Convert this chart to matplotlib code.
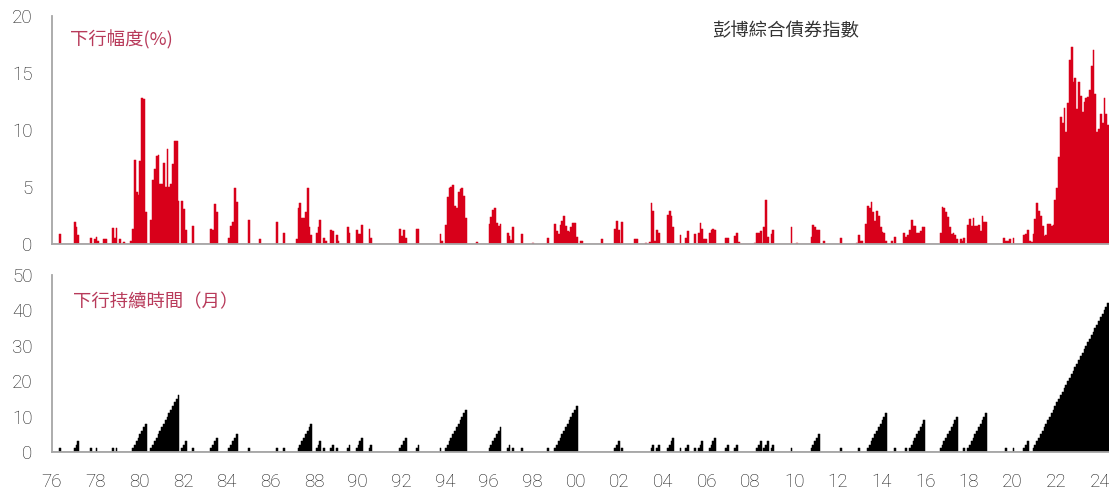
import matplotlib
matplotlib.use("Agg")
import matplotlib.pyplot as plt
import numpy as np

# ---------------- data ----------------
START_YEAR = 1976
N_MONTHS = 581  # Jan 1976 .. May 2024, monthly

# drawdown episodes of the Bloomberg Aggregate index: (first month, monthly drawdown %)
DD_EPISODES = [
    ("1976-05", [0.9]),
    ("1977-01", [1.9, 1.5, 0.8]),
    ("1977-10", [0.5]),
    ("1977-12", [0.45, 0.65, 0.3]),
    ("1978-05", [0.45, 0.45]),
    ("1978-10", [1.4, 0.5, 1.4]),
    ("1979-02", [0.4]),
    ("1979-04", [0.15]),
    ("1979-08", [0.3, 1.3, 7.4, 4.6, 4.3, 7.3, 12.8, 12.75, 2.8]),
    ("1980-07", [2.1, 5.6, 6.6, 7.7, 7.85, 5.3, 5.3, 7.1, 5.0, 8.3, 5.0, 5.3, 7.05, 9.0, 9.05, 3.75]),
    ("1981-12", [3.75, 3.1, 1.25]),
    ("1982-06", [1.55]),
    ("1983-04", [1.3, 1.2, 3.55, 2.85]),
    ("1984-02", [0.5, 1.6, 1.9, 4.9, 3.7]),
    ("1985-01", [2.1]),
    ("1985-07", [0.4]),
    ("1986-04", [1.9]),
    ("1986-08", [0.95]),
    ("1987-03", [0.45, 3.15, 3.6, 2.25, 2.3, 2.85, 4.9, 1.5, 0.75]),
    ("1988-02", [0.95, 1.45, 2.1]),
    ("1988-06", [0.5, 0.3]),
    ("1988-10", [1.25, 1.15]),
    ("1989-01", [0.75, 0.3]),
    ("1989-07", [1.45, 0.95]),
    ("1989-12", [1.2, 0.9, 0.9, 1.7]),
    ("1990-07", [1.35, 0.5]),
    ("1991-12", [1.35, 0.7, 1.25, 0.55]),
    ("1992-09", [1.3, 1.3]),
    ("1993-10", [0.9, 0.3]),
    ("1994-01", [1.7, 4.15, 4.9, 5.0, 5.15, 3.3, 3.2, 4.55, 4.8, 4.9, 4.2, 2.3]),
    ("1995-06", [0.2]),
    ("1996-01", [1.75, 2.4, 2.95, 3.15, 1.85, 1.55, 1.75]),
    ("1996-11", [0.95, 0.67, 0.35, 1.5]),
    ("1997-07", [0.88]),
    ("1998-01", [0.1]),
    ("1998-09", [0.5]),
    ("1999-01", [1.75, 1.15, 0.9, 1.7, 2.05, 2.5, 1.6, 1.1, 1.05, 1.45, 1.85, 1.8, 0.65]),
    ("2000-03", [0.3, 0.25]),
    ("2001-03", [0.4]),
    ("2001-10", [1.3, 2.0, 1.25, 0.1, 1.9]),
    ("2002-09", [0.4, 0.4]),
    ("2003-03", [0.1]),
    ("2003-05", [0.2, 3.6, 2.9, 0.3, 1.25, 1.0]),
    ("2004-03", [2.55, 2.9, 2.45, 1.45]),
    ("2004-10", [0.8]),
    ("2005-01", [0.55, 1.1]),
    ("2005-06", [0.9]),
    ("2005-08", [1.0, 1.8, 1.35, 0.4, 0.4]),
    ("2006-02", [1.0, 1.25, 1.3, 1.25]),
    ("2006-11", [0.55, 0.55]),
    ("2007-04", [0.7, 1.0, 0.2]),
    ("2008-03", [0.1, 0.95, 1.0, 1.1, 0.1, 1.45, 3.85, 0.65]),
    ("2008-12", [0.85, 1.25]),
    ("2009-11", [1.5]),
    ("2010-02", [0.1]),
    ("2010-10", [0.6, 1.65, 1.5, 1.25, 1.25]),
    ("2011-05", [0.25]),
    ("2012-02", [0.55]),
    ("2012-11", [0.1, 0.8, 0.3, 0.25]),
    ("2013-04", [1.78, 3.3, 3.16, 3.68, 2.8, 2.0, 2.92, 2.43, 1.46, 1.05, 1.0, 0.25]),
    ("2014-06", [0.25]),
    ("2014-08", [0.65]),
    ("2015-01", [0.95, 0.6, 0.8, 1.25, 2.1, 1.6, 1.55, 1.0, 0.95, 1.1, 1.45, 1.45]),
    ("2016-09", [0.94, 3.27, 3.16, 2.84, 2.34, 1.52, 0.85, 0.94, 0.8, 0.44]),
    ("2017-08", [0.45, 0.3, 0.55]),
    ("2017-12", [1.65, 2.2, 1.6, 2.3, 1.6, 1.6, 1.7, 1.1, 2.45, 1.9, 1.9]),
    ("2019-08", [0.5, 0.25, 0.3, 0.4]),
    ("2020-01", [0.55]),
    ("2020-07", [0.8, 0.85, 1.25, 0.3, 0.18, 0.85, 2.2, 3.6, 2.9, 2.45, 1.6, 0.7, 0.8,
                 1.75, 1.75, 1.55, 1.65, 3.85, 4.9, 7.6, 11.1, 10.65, 11.95, 9.85, 12.35,
                 16.15, 17.25, 14.25, 14.6, 11.8, 14.25, 12.95, 11.55, 12.5, 12.8, 12.9,
                 13.5, 15.6, 17.0, 13.2, 9.85, 10.1, 11.4, 10.6, 12.8, 11.4, 10.4]),
]

# drawdown duration runs: (first month, number of consecutive months in drawdown)
DUR_RUNS = [
    ("1976-05", 1), ("1977-01", 3), ("1977-10", 1), ("1978-01", 1), ("1978-10", 1),
    ("1978-12", 1), ("1979-09", 8), ("1980-07", 16), ("1981-12", 3), ("1982-06", 1),
    ("1983-04", 4), ("1984-02", 5), ("1985-01", 1), ("1986-04", 1), ("1986-08", 1),
    ("1987-04", 8), ("1988-02", 3), ("1988-06", 1), ("1988-10", 2), ("1989-01", 1),
    ("1989-07", 2), ("1989-12", 4), ("1990-07", 2), ("1991-12", 4), ("1992-09", 2),
    ("1993-10", 1), ("1994-01", 12), ("1996-01", 7), ("1996-11", 2), ("1997-02", 1),
    ("1997-07", 1), ("1998-09", 1), ("1999-01", 13), ("2001-10", 3), ("2002-02", 1),
    ("2003-06", 2), ("2003-09", 2), ("2004-03", 4), ("2004-10", 1), ("2005-01", 2),
    ("2005-06", 1), ("2005-08", 3), ("2006-02", 4), ("2006-11", 2), ("2007-04", 2),
    ("2008-04", 3), ("2008-08", 3), ("2008-12", 2), ("2009-11", 1), ("2010-10", 5),
    ("2012-02", 1), ("2012-12", 1), ("2013-05", 11), ("2014-08", 1), ("2015-02", 1),
    ("2015-04", 9), ("2016-09", 10), ("2017-10", 1), ("2017-12", 11), ("2019-09", 1),
    ("2020-01", 1), ("2020-07", 3), ("2020-12", 42),
]

TOP_YTICKS = [0, 5, 10, 15, 20]
BOT_YTICKS = [0, 10, 20, 30, 40, 50]
XTICK_LABELS = ["76", "78", "80", "82", "84", "86", "88", "90", "92", "94", "96", "98",
                "00", "02", "04", "06", "08", "10", "12", "14", "16", "18", "20", "22", "24"]

TITLE = "彭博綜合債券指數"
TOP_LABEL = "下行幅度(%)"
BOT_LABEL = "下行持續時間（月）"


# ---------------- build monthly series ----------------
def month_index(s):
    y, m = map(int, s.split("-"))
    return (y - START_YEAR) * 12 + (m - 1)


drawdown = np.zeros(N_MONTHS)
for start, vals in DD_EPISODES:
    i = month_index(start)
    drawdown[i:i + len(vals)] = vals

duration = np.zeros(N_MONTHS)
for start, n in DUR_RUNS:
    i = month_index(start)
    duration[i:i + n] = np.arange(1, n + 1)

# ---------------- figure ----------------
W, H = 1109, 491
fig = plt.figure(figsize=(W / 100, H / 100), dpi=100)
fig.patch.set_facecolor("white")

CJK = ["Noto Sans CJK TC", "DejaVu Sans"]
NUM = ["Roboto", "DejaVu Sans"]


def ax_rect(left, top, right, bottom):
    return [left / W, 1 - bottom / H, (right - left) / W, (bottom - top) / H]


ax1 = fig.add_axes(ax_rect(52, 16, 1109, 244))
ax2 = fig.add_axes(ax_rect(52, 275, 1109, 452))

RED = "#D8001A"
x = np.arange(N_MONTHS)
ax1.bar(x, drawdown, width=1.0, color=RED, edgecolor=RED, linewidth=0.35)
ax2.bar(x, duration, width=1.0, color="black", edgecolor="black", linewidth=0.35)

for ax in (ax1, ax2):
    ax.set_xlim(-0.5, N_MONTHS - 0.5)
    for sp in ("top", "right"):
        ax.spines[sp].set_visible(False)
    for sp in ("left", "bottom"):
        ax.spines[sp].set_color("#A6A6A6")
        ax.spines[sp].set_linewidth(1.3)
        ax.spines[sp].set_zorder(3)
    ax.tick_params(length=0, labelsize=13.5, colors="#1A1A1A", pad=14)
    ax.set_facecolor("white")

ax1.set_ylim(0, 20)
ax1.set_yticks(TOP_YTICKS)
ax1.set_xticks([])
ax2.set_ylim(0, 50)
ax2.set_yticks(BOT_YTICKS)
ax2.set_xticks([24 * k - 0.5 for k in range(len(XTICK_LABELS))])
ax2.set_xticklabels(XTICK_LABELS)
ax2.tick_params(axis="x", pad=15)

for ax in (ax1, ax2):
    for lab in ax.get_xticklabels() + ax.get_yticklabels():
        lab.set_family(NUM)
        lab.set_fontweight("light")

label_color = "#B83A5A"
fig.text(70 / W, 1 - 40 / H, TOP_LABEL, family=CJK, fontsize=13.2, color=label_color,
         ha="left", va="center")
fig.text(712 / W, 1 - 31 / H, TITLE, family=CJK, fontsize=13.2, color="#333333",
         ha="left", va="center")
fig.text(73 / W, 1 - 302 / H, BOT_LABEL, family=CJK, fontsize=13.2, color=label_color,
         ha="left", va="center")

fig.savefig("out.png", dpi=100, facecolor="white")
